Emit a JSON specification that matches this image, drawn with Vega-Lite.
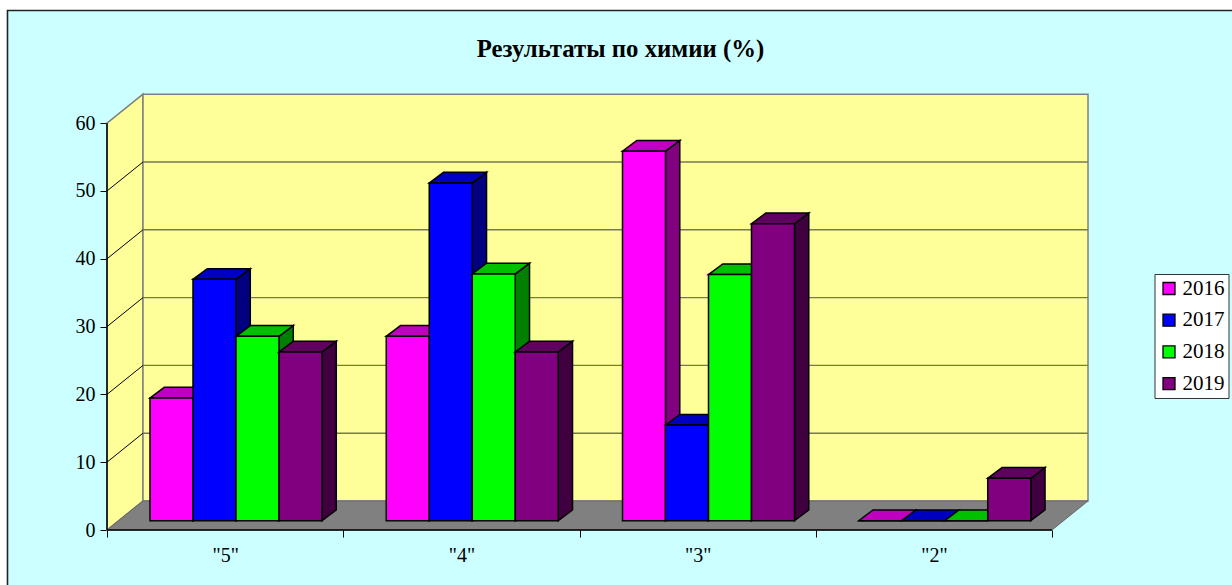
{
"$schema":"https://vega.github.io/schema/vega-lite/v6.json",
"width":1225,"height":575,
"autosize":{"type":"none"},
"padding":{"left":7,"top":10,"right":0,"bottom":0},
"background":"white",
"view":{"stroke":null,"fill":"#CCFFFF"},
"title":{"text":"Результаты по химии (%)","font":"Liberation Serif","fontSize":24.8,"fontWeight":"bold","color":"black","anchor":"middle","baseline":"alphabetic","offset":-74,"dx":1},
"config":{"font":"Liberation Serif"},
"params":[
{"name":"wallX","value":0.1524},{"name":"wallY","value":4.28},
{"name":"barW","value":0.182},{"name":"barX","value":0.0605},{"name":"barY","value":1.58},{"name":"baseY","value":1.37}
],
"datasets":{
"bars":[
{"category":"\"5\"","year":2016,"value":18.1},{"category":"\"5\"","year":2017,"value":35.6},{"category":"\"5\"","year":2018,"value":27.2},{"category":"\"5\"","year":2019,"value":24.9},
{"category":"\"4\"","year":2016,"value":27.2},{"category":"\"4\"","year":2017,"value":49.8},{"category":"\"4\"","year":2018,"value":36.4},{"category":"\"4\"","year":2019,"value":24.9},
{"category":"\"3\"","year":2016,"value":54.5},{"category":"\"3\"","year":2017,"value":14.1},{"category":"\"3\"","year":2018,"value":36.3},{"category":"\"3\"","year":2019,"value":43.8},
{"category":"\"2\"","year":2016,"value":0},{"category":"\"2\"","year":2017,"value":0},{"category":"\"2\"","year":2018,"value":0},{"category":"\"2\"","year":2019,"value":6.25}
],
"surfaces":[{"surface":"left"},{"surface":"back"}],
"floor":[{"surface":"floor"}],
"grid":[{"v":10},{"v":20},{"v":30},{"v":40},{"v":50}],
"frame":[{"p":0},{"p":1},{"p":2}],
"axisLines":[{"line":"y","p":0},{"line":"y","p":1},{"line":"x","p":0},{"line":"x","p":1}]
},
"encoding":{
"x":{"field":"x","type":"quantitative","title":null,"scale":{"domain":[-0.42328,4.7619],"nice":false,"zero":false},
 "axis":{"orient":"bottom","offset":-55,"domain":false,"grid":false,"values":[0,0.5,1,1.5,2,2.5,3,3.5,4],"tickSize":7,"tickColor":"black","tickWidth":1,"tickOpacity":{"condition":{"test":"datum.value % 1 == 0","value":1},"value":0},
 "labelExpr":"datum.value==0.5?'\"5\"':datum.value==1.5?'\"4\"':datum.value==2.5?'\"3\"':datum.value==3.5?'\"2\"':''","labelFont":"Liberation Serif","labelFontSize":20,"labelColor":"black","labelPadding":8,"labelOverlap":false,"labelFlush":false}},
"y":{"field":"y","type":"quantitative","title":null,"stack":null,"scale":{"domain":[-8.112,76.696],"nice":false,"zero":false},
 "axis":{"orient":"left","offset":-100,"domain":false,"grid":false,"values":[0,10,20,30,40,50,60],"tickSize":7,"tickColor":"black","tickWidth":1,"labelFont":"Liberation Serif","labelFontSize":20,"labelColor":"black","labelPadding":5}}
},
"layer":[
{"data":{"name":"frame"},
 "transform":[{"calculate":"[-0.4212,-0.4212,4.7619][datum.p]","as":"x"},{"calculate":"[-8.112,76.62,76.62][datum.p]","as":"y"}],
 "mark":{"type":"line","stroke":"#222222","strokeWidth":1.6,"clip":false,"order":false},
 "encoding":{"order":{"field":"p"}}},
{"data":{"name":"surfaces"},
 "transform":[{"calculate":"[0,1,2,3]","as":"stop"},{"flatten":["stop"]},
 {"calculate":"datum.surface=='left'?(datum.stop<2?0:wallX):(datum.stop<2?wallX:4+wallX)","as":"x"},
 {"calculate":"datum.surface=='left'?(datum.stop<2?0:wallY):wallY","as":"y"},
 {"calculate":"datum.surface=='left'?(datum.stop<2?60:60+wallY):60+wallY","as":"y2"}],
 "mark":{"type":"area","fill":"#FFFF99","stroke":"#808080","strokeWidth":1.5},
 "encoding":{"y2":{"field":"y2"},"detail":{"field":"surface"}}},
{"data":{"name":"floor"},
 "transform":[{"calculate":"[0,1,2,3]","as":"stop"},{"flatten":["stop"]},
 {"calculate":"[0,wallX,4,4+wallX][datum.stop]","as":"x"},
 {"calculate":"[0,0,0,wallY][datum.stop]","as":"y"},
 {"calculate":"[0,wallY,wallY,wallY][datum.stop]","as":"y2"}],
 "mark":{"type":"area","fill":"#808080","stroke":"#666666","strokeWidth":1},
 "encoding":{"y2":{"field":"y2"}}},
{"data":{"name":"grid"},
 "transform":[{"calculate":"wallX","as":"x"},{"calculate":"4+wallX","as":"x2"},{"calculate":"datum.v+wallY","as":"y"}],
 "mark":{"type":"rule","stroke":"#77775A","strokeWidth":1.4},
 "encoding":{"x2":{"field":"x2"}}},
{"data":{"name":"grid"},
 "transform":[{"calculate":"0","as":"x"},{"calculate":"wallX","as":"x2"},{"calculate":"datum.v","as":"y"},{"calculate":"datum.v+wallY","as":"y2"}],
 "mark":{"type":"rule","stroke":"black","strokeWidth":1},
 "encoding":{"x2":{"field":"x2"},"y2":{"field":"y2"}}},
{"data":{"name":"axisLines"},
 "transform":[{"calculate":"datum.line=='y'?0:4*datum.p","as":"x"},{"calculate":"datum.line=='y'?60*datum.p:0","as":"y"}],
 "mark":{"type":"line","stroke":"black","strokeWidth":1.5},
 "encoding":{"detail":{"field":"line"}}},
{"data":{"name":"bars"},
 "transform":[
 {"calculate":"indexof(['\"5\"','\"4\"','\"3\"','\"2\"'],datum.category)","as":"c"},
 {"calculate":"datum.c+(1+datum.year-2016)*barW","as":"l"},
 {"calculate":"datum.l+barW","as":"r"},
 {"calculate":"baseY+datum.value","as":"t"},
 {"calculate":"['side','top','front']","as":"face"},{"flatten":["face"]},
 {"calculate":"[0,1,2,3]","as":"stop"},{"flatten":["stop"]},
 {"calculate":"datum.face=='side'?[datum.r,datum.r,datum.r+barX,datum.r+barX][datum.stop]:datum.face=='top'?[datum.l,datum.l+barX,datum.r,datum.r+barX][datum.stop]:[datum.l,datum.l,datum.r,datum.r][datum.stop]","as":"x"},
 {"calculate":"datum.face=='side'?[baseY,baseY,baseY+barY,baseY+barY][datum.stop]:datum.face=='top'?[datum.t,datum.t,datum.t,datum.t+barY][datum.stop]:baseY","as":"y"},
 {"calculate":"datum.face=='side'?[datum.t,datum.t,datum.t+barY,datum.t+barY][datum.stop]:datum.face=='top'?[datum.t,datum.t+barY,datum.t+barY,datum.t+barY][datum.stop]:datum.t","as":"y2"},
 {"calculate":"datum.face=='front'?''+datum.year:datum.year+' '+datum.face","as":"shade"},
 {"calculate":"datum.category+datum.year+datum.face","as":"faceId"}
 ],
 "mark":{"type":"area","stroke":"black","strokeWidth":1.5,"strokeJoin":"miter"},
 "encoding":{"y2":{"field":"y2"},"detail":{"field":"faceId"},
 "color":{"field":"shade","type":"nominal","title":null,
  "scale":{"domain":["2016","2017","2018","2019","2016 side","2017 side","2018 side","2019 side","2016 top","2017 top","2018 top","2019 top"],
  "range":["#FF00FF","#0000FF","#00FF00","#800080","#800080","#000080","#008000","#400040","#C000C0","#0000C0","#00C000","#600060"]},
  "legend":{"orient":"none","legendX":1147.5,"legendY":264,"values":["2016","2017","2018","2019"],"title":null,"symbolType":"square","symbolSize":144,"symbolStrokeColor":"black","symbolStrokeWidth":1.3,"labelFont":"Liberation Serif","labelFontSize":21,"labelColor":"black","fillColor":"white","strokeColor":"#333333","padding":4,"rowPadding":9.7,"labelOffset":3}}}}
]
}
